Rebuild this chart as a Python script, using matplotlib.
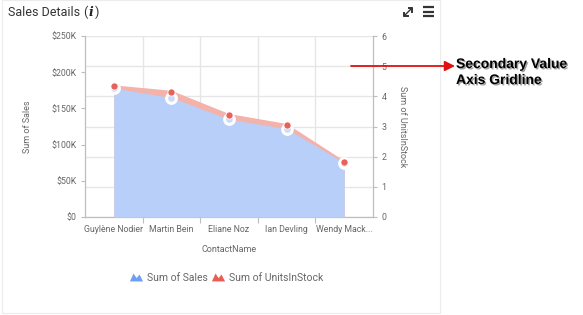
import matplotlib
matplotlib.use("Agg")
import matplotlib.pyplot as plt
from matplotlib.path import Path
from matplotlib.lines import Line2D
from matplotlib.patches import Rectangle, FancyArrowPatch
import matplotlib.patheffects as pe
import matplotlib.ticker as mticker

# ---- data ----
contacts = ["Guylène Nodier", "Martin Bein", "Eliane Noz", "Ian Devling", "Wendy Mack..."]
sales = [178000, 165000, 135000, 122000, 75000]
units = [4.33, 4.15, 3.38, 3.05, 1.82]
sales_ticks = [0, 50000, 100000, 150000, 200000, 250000]
units_ticks = [0, 1, 2, 3, 4, 5, 6]

W, H = 583, 315
fig = plt.figure(figsize=(W / 100, H / 100), dpi=100)
fig.patch.set_facecolor("white")
plt.rcParams["font.family"] = ["Roboto", "DejaVu Sans"]

TXT = "#666666"
AXC = "#bdbdbd"
GRID = "#e6e6e6"
BLUE_FILL = "#b8cffa"
BLUE_MK = "#c9dafb"
RED_FILL = "#f3b2aa"
RED_MK = "#e8625b"

L, R, T, B = 85, 373, 36, 217
ax1 = fig.add_axes([L / W, 1 - B / H, (R - L) / W, (B - T) / H])
ax2 = ax1.twinx()
ax1.set_zorder(ax2.get_zorder() + 1)
ax1.patch.set_visible(False)

x = list(range(len(contacts)))
ax1.set_xlim(-0.5, len(contacts) - 0.5)
ax1.set_ylim(0, 250000)
ax2.set_ylim(0, 6)

# red area (units) drawn on ax1 using ax2 scale
ax1.fill_between(x, 0, units, color=RED_FILL, lw=0, zorder=2, transform=ax2.transData)
ax1.plot(x, units, color=RED_FILL, lw=1.5, zorder=2, transform=ax2.transData)
# blue area (sales)
ax1.fill_between(x, 0, sales, color=BLUE_FILL, lw=0, zorder=3)
ax1.plot(x, sales, linestyle="none", marker="o", ms=7, mfc=BLUE_MK, mec="white", mew=2.2, zorder=4)
ax1.plot(x, units, linestyle="none", marker="o", ms=5.2, mfc=RED_MK, mec="white", mew=0.6, zorder=5,
         transform=ax2.transData)

# grids
ax2.set_yticks(units_ticks)
ax2.yaxis.grid(True, color=GRID, lw=1)
ax2.set_axisbelow(True)
ax1.set_yticks(sales_ticks)
ax1.yaxis.set_major_formatter(mticker.FuncFormatter(lambda v, p: "$0" if v == 0 else f"${int(v/1000)}K"))

bounds = [i + 0.5 for i in range(len(contacts) - 1)]
ax1.set_xticks(bounds)
ax1.set_xticklabels([])
ax1.set_xticks(x, minor=True)
ax1.set_xticklabels(contacts, minor=True)
ax1.tick_params(axis="x", which="minor", length=0, pad=6, labelsize=6.3, labelcolor=TXT)
ax1.tick_params(axis="x", which="major", length=4, color=AXC, width=0.8)
for b in bounds:
    ax2.axvline(b, color=GRID, lw=1, zorder=0)

ax1.tick_params(axis="y", length=3, color=AXC, width=0.8, labelsize=6.3, labelcolor=TXT, pad=3)
ax2.tick_params(axis="y", length=3, color=AXC, width=0.8, labelsize=6.3, labelcolor=TXT, pad=3)

for ax in (ax1, ax2):
    ax.spines["top"].set_visible(False)
    for s in ("left", "right", "bottom"):
        ax.spines[s].set_color(AXC)
        ax.spines[s].set_linewidth(0.8)

ax1.set_xlabel("ContactName", fontsize=6.5, color=TXT, labelpad=8)
ax1.set_ylabel("Sum of Sales", fontsize=6.5, color=TXT, labelpad=14)
ax2.set_ylabel("Sum of UnitsInStock", fontsize=6.5, color=TXT, rotation=-90, labelpad=15)

# legend
icon = Path([(-1, -0.6), (-0.45, 0.6), (0.02, -0.1), (0.45, 0.45), (1.0, -0.6), (-1, -0.6)],
            [Path.MOVETO, Path.LINETO, Path.LINETO, Path.LINETO, Path.LINETO, Path.CLOSEPOLY])
handles = [Line2D([], [], linestyle="none", marker=icon, ms=9.5, color="#6f9ef2", mec="none"),
           Line2D([], [], linestyle="none", marker=icon, ms=9.5, color="#ea5e55", mec="none")]
fig.legend(handles, ["Sum of Sales", "Sum of UnitsInStock"], loc="center",
           bbox_to_anchor=(226 / W, 1 - 278 / H), ncol=2, frameon=False,
           fontsize=7.5, labelcolor=TXT, handlelength=1.3, handletextpad=0.4,
           columnspacing=0.3)

# overlay for decorations
ov = fig.add_axes([0, 0, 1, 1], zorder=10)
ov.set_xlim(0, W)
ov.set_ylim(H, 0)
ov.axis("off")
ov.patch.set_visible(False)
ov.add_patch(Rectangle((2, 0), 438, 313, fill=False, ec="#ececec", lw=0.8))

# title
ov.text(8, 12, "Sales Details", fontsize=9, color="#333333", va="center", ha="left")
ov.text(83, 12, "(", fontsize=9, color="#333333", va="center", ha="left")
ov.text(88.5, 12, "i", fontsize=9, color="#222222", va="center", ha="left",
        family="DejaVu Serif", style="italic", weight="bold")
ov.text(95, 12, ")", fontsize=9, color="#333333", va="center", ha="left")

# icons: expand and menu
ov.plot([404, 412], [16, 8], color="#333", lw=1)
ov.plot([404, 404, 407.5], [12.5, 16, 16], color="#333", lw=1.4)
ov.plot([408.5, 412, 412], [8, 8, 11.5], color="#333", lw=1.4)
for yy in (7, 11.5, 16):
    ov.plot([423, 434], [yy, yy], color="#333", lw=1.6, solid_capstyle="butt")

# annotation arrow and text
ov.add_patch(FancyArrowPatch((351, 66), (455, 66), arrowstyle="-|>,head_length=6,head_width=3",
                             color="#e01010", lw=1.3, shrinkA=0, shrinkB=0))
for txt, yy in (("Secondary Value", 64), ("Axis Gridline", 80)):
    t = ov.text(456, yy, txt, fontsize=10, family="Liberation Sans", weight="bold",
                color="black", va="center", ha="left")
    t.set_path_effects([pe.withSimplePatchShadow(offset=(1, -1), shadow_rgbFace="#777777", alpha=0.7)])

fig.savefig("out.png", dpi=100, facecolor="white")
